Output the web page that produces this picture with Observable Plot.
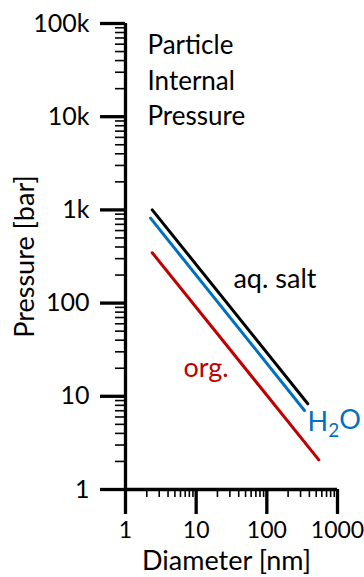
<!DOCTYPE html>
<html><head><meta charset="utf-8">
<script src="https://cdn.jsdelivr.net/npm/d3@7"></script>
<script src="https://cdn.jsdelivr.net/npm/@observablehq/plot@0.6"></script>
<style>body{margin:0;background:#fff} svg{display:block}</style>
</head><body><div id="chart"></div>
<script>
// Series (line endpoints)
const seriesNames = ["aq. salt", "H2O", "org."];
const seriesColors = ["#000000", "#0070C0", "#C00000"];
const diameterStart = [2.39, 2.26, 2.39];
const diameterEnd = [380, 341, 544];
const pressureStart = [1002, 815, 347];
const pressureEnd = [8.31, 7.04, 2.08];
// Series label positions (data coords)
const labelDiameter = [33.7, 377, 6.62];
const labelPressure = [179, 5.2, 19.9];
// Ticks
const xMajorTicks = [1, 10, 100, 1000];
const xTickLabels = ["1", "10", "100", "1000"];
const yMajorTicks = [1, 10, 100, 1000, 10000, 100000];
const yTickLabels = ["1", "10", "100", "1k", "10k", "100k"];
const minorMultipliers = [2, 3, 4, 5, 6, 7, 8, 9];
const xMinorTicks = [1, 10, 100].flatMap(d => minorMultipliers.map(m => m * d));
const yMinorTicks = [1, 10, 100, 1000, 10000].flatMap(d => minorMultipliers.map(m => m * d));
const titleLines = ["Particle", "Internal", "Pressure"];
const xLabel = "Diameter [nm]";
const yLabel = "Pressure [bar]";

const lines = seriesNames.flatMap((s, i) => [
  {series: s, d: diameterStart[i], p: pressureStart[i]},
  {series: s, d: diameterEnd[i], p: pressureEnd[i]}
]);
const labels = seriesNames.map((s, i) => ({series: s, d: labelDiameter[i], p: labelPressure[i], color: seriesColors[i]}));

const font = "Lato, 'Noto Sans', sans-serif";
const fs = 27;

const plot = Plot.plot({
  width: 364,
  height: 577,
  marginLeft: 125,
  marginRight: 27,
  marginTop: 23,
  marginBottom: 88,
  style: {fontFamily: font, fontSize: fs + "px", color: "#000", background: "#fff", overflow: "visible"},
  x: {type: "log", domain: [1, 1000]},
  y: {type: "log", domain: [1, 100000]},
  color: {domain: seriesNames, range: seriesColors},
  marks: [
    // minor ticks
    Plot.axisY(yMinorTicks, {tickSize: 10, strokeWidth: 1.6, tickFormat: () => "", label: null}),
    Plot.axisX(xMinorTicks, {tickSize: 8, strokeWidth: 1.6, tickFormat: () => "", label: null}),
    // major ticks
    Plot.axisY(yMajorTicks, {tickSize: 25, strokeWidth: 3.3, tickPadding: 11, tickFormat: (d) => yTickLabels[yMajorTicks.indexOf(d)], label: null, fontSize: 25}),
    Plot.axisX(xMajorTicks, {tickSize: 25, strokeWidth: 3.3, tickPadding: 7, tickFormat: (d) => xTickLabels[xMajorTicks.indexOf(d)], label: null, fontSize: 23}),
    // axis lines
    Plot.ruleX([1], {stroke: "#000", strokeWidth: 3.3}),
    Plot.ruleY([1], {stroke: "#000", strokeWidth: 3.3}),
    // data lines
    Plot.line(lines, {x: "d", y: "p", z: "series", stroke: "series", strokeWidth: 3}),
    // series labels
    Plot.text(labels, {x: "d", y: "p", text: "series", fill: "color", textAnchor: "start", lineAnchor: "middle", fontSize: fs}),
    // title
    Plot.text([titleLines.join("\n")], {frameAnchor: "top-left", dx: 22, dy: 6, textAnchor: "start", lineAnchor: "top", lineHeight: 1.35, fontSize: 26}),
    // axis labels
    Plot.text([xLabel], {frameAnchor: "bottom", dx: -5, dy: 72, textAnchor: "middle", lineAnchor: "middle", fontSize: fs}),
    Plot.text([yLabel], {frameAnchor: "left", dx: -100, dy: 0, rotate: -90, textAnchor: "middle", lineAnchor: "middle", fontSize: fs})
  ]
});

// subscript for H2O
d3.select(plot).selectAll("text").each(function() {
  if (this.textContent === "H2O") {
    const t = d3.select(this);
    t.text("");
    t.append("tspan").text("H");
    t.append("tspan").text("2").attr("font-size", "70%").attr("dy", "0.3em");
    t.append("tspan").text("O").attr("dy", "-0.3em");
  }
});

document.getElementById("chart").appendChild(plot);
</script>
</body></html>
